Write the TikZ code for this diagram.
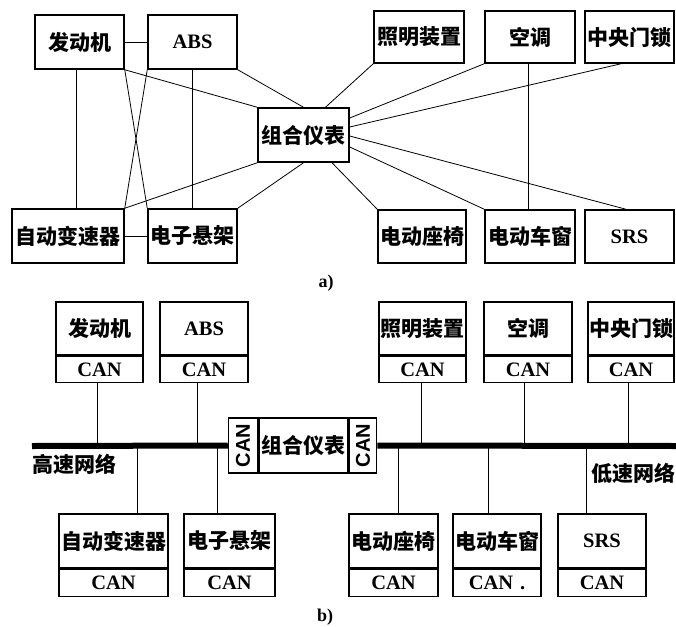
\documentclass[tikz,border=0pt]{standalone}
\usepackage{fontspec}
\setmainfont{Liberation Serif}
\newfontfamily\cjkfont{Noto Sans CJK SC}
\newfontfamily\sansfont{Liberation Sans}
\usetikzlibrary{calc}
\newcommand{\zh}{\cjkfont\bfseries\fontsize{21}{21}\selectfont}
\newcommand{\lat}{\rmfamily\bfseries\fontsize{20.5}{20.5}\selectfont}
\newcommand{\cansans}{\sansfont\bfseries\fontsize{20}{20}\selectfont}
\begin{document}
\begin{tikzpicture}[x=1pt,y=-1pt,
  boxa/.style={draw, line width=1.5pt, fill=white, inner sep=0pt, minimum height=54pt},
  canbox/.style={draw, line width=1.5pt, fill=white, inner sep=0pt, minimum height=26pt, font=\lat},
  conn/.style={line width=0.8pt},
  bus/.style={line width=6pt},
  captext/.style={font=\rmfamily\bfseries\fontsize{18}{18}\selectfont}]
\useasboundingbox (0,0) rectangle (676,626);

% ---------- a) ----------
\node[boxa, minimum width=89pt] (eng) at (79.5,42) {\zh 发动机};
\node[boxa, minimum width=89pt] (abs) at (192.5,42) {\lat ABS};
\node[boxa, minimum width=91pt] (cl) at (303.5,135) {\zh 组合仪表};
\node[boxa, minimum width=112pt] (at) at (68,236) {\zh 自动变速器};
\node[boxa, minimum width=89pt] (susp) at (192.5,236) {\zh 电子悬架};
\node[boxa, minimum width=90pt, minimum height=52pt] (light) at (419,37) {\zh 照明装置};
\node[boxa, minimum width=90pt, minimum height=52pt] (ac) at (530,37) {\zh 空调};
\node[boxa, minimum width=89pt, minimum height=52pt] (lock) at (629.5,37) {\zh 中央门锁};
\node[boxa, minimum width=88pt, minimum height=53pt] (seat) at (422,236.5) {\zh 电动座椅};
\node[boxa, minimum width=90pt, minimum height=53pt] (win) at (530,236.5) {\zh 电动车窗};
\node[boxa, minimum width=89pt, minimum height=53pt] (srs) at (629.5,236.5) {\lat SRS};

\draw[conn] (eng.east) -- (abs.west);
\draw[conn] (at.east) -- (susp.west);
\draw[conn] ([xshift=-3.5pt]eng.south) -- ([xshift=-3.5pt]eng.south |- at.north);
\draw[conn] (abs.south) -- (susp.north);
\draw[conn] (eng.south east) -- (susp.north west);
\draw[conn] (abs.south west) -- (at.north east);
\draw[conn] (eng.south east) -- (cl.north west);
\draw[conn] (abs.south east) -- (cl.north);
\draw[conn] (at.north east) -- (cl.south west);
\draw[conn] (susp.north east) -- (cl.south);
\draw[conn] ([xshift=22pt]cl.north) -- (light.south west);
\draw[conn] ([yshift=17pt]cl.east) -- (ac.south west);
\draw[conn] ([yshift=8pt]cl.east) -- ([xshift=-8.5pt]lock.south);
\draw[conn] ([xshift=-2pt]ac.south) -- ([xshift=-2pt]win.north);
\draw[conn] ([yshift=-1pt]cl.east) -- ([xshift=-3.5pt]srs.north);
\draw[conn] ([yshift=-12pt]cl.east) -- (win.north west);
\draw[conn] ([xshift=28.5pt]cl.south) -- (seat.north west);

\node[captext] (capa) at (326,283) {a)};

% ---------- b) ----------
\coordinate (busL) at (32,446);
\coordinate (busR) at (676,446);

\node[boxa, minimum width=89pt, minimum height=55pt] (cl2) at (303.5,445.5) {\zh 组合仪表};
\node[boxa, anchor=east, minimum width=29pt, minimum height=55pt] (cl2l) at (cl2.west) {\rotatebox{90}{\cansans CAN}};
\node[boxa, anchor=west, minimum width=27pt, minimum height=55pt] (cl2r) at (cl2.east) {\rotatebox{90}{\cansans CAN}};

\draw[bus] (busL) -- (cl2l.west);
\draw[bus] (cl2r.east) -- (busR);

% top boxes
\node[boxa, minimum width=87pt, minimum height=53pt] (eng2) at (99.5,328.5) {\zh 发动机};
\node[canbox, anchor=north, minimum width=87pt] (eng2c) at (eng2.south) {CAN};
\node[boxa, minimum width=88pt, minimum height=53pt] (abs2) at (204,328.5) {\lat ABS};
\node[canbox, anchor=north, minimum width=88pt] (abs2c) at (abs2.south) {CAN};
\node[boxa, minimum width=87pt, minimum height=53pt] (light2) at (422.5,328.5) {\zh 照明装置};
\node[canbox, anchor=north, minimum width=87pt] (light2c) at (light2.south) {CAN};
\node[boxa, minimum width=88pt, minimum height=53pt] (ac2) at (528,328.5) {\zh 空调};
\node[canbox, anchor=north, minimum width=88pt] (ac2c) at (ac2.south) {CAN};
\node[boxa, minimum width=86pt, minimum height=53pt] (lock2) at (631,328.5) {\zh 中央门锁};
\node[canbox, anchor=north, minimum width=86pt] (lock2c) at (lock2.south) {CAN};

% bottom boxes
\node[boxa, minimum width=109pt, minimum height=54pt] (at2) at (113.5,541) {\zh 自动变速器};
\node[canbox, anchor=north, minimum width=109pt, minimum height=27pt] (at2c) at (at2.south) {CAN};
\node[boxa, minimum width=91pt, minimum height=54pt] (susp2) at (229.5,541) {\zh 电子悬架};
\node[canbox, anchor=north, minimum width=91pt, minimum height=27pt] (susp2c) at (susp2.south) {CAN};
\node[boxa, minimum width=89pt, minimum height=54pt] (seat2) at (393.5,541) {\zh 电动座椅};
\node[canbox, anchor=north, minimum width=89pt, minimum height=27pt] (seat2c) at (seat2.south) {CAN};
\node[boxa, minimum width=88pt, minimum height=54pt] (win2) at (497,541) {\zh 电动车窗};
\node[canbox, anchor=north, minimum width=88pt, minimum height=27pt] (win2c) at (win2.south) {CAN\,\,.};
\node[boxa, minimum width=88pt, minimum height=54pt] (srs2) at (602,541) {\lat SRS};
\node[canbox, anchor=north, minimum width=88pt, minimum height=27pt] (srs2c) at (srs2.south) {CAN};

% drops to bus
\draw[conn] ([xshift=-2.5pt]eng2c.south) -- ([xshift=-2.5pt]eng2c.south |- busL);
\draw[conn] ([xshift=-7pt]abs2c.south) -- ([xshift=-7pt]abs2c.south |- busL);
\draw[conn] ([xshift=-1.5pt]light2c.south) -- ([xshift=-1.5pt]light2c.south |- busL);
\draw[conn] ([xshift=-4pt]ac2c.south) -- ([xshift=-4pt]ac2c.south |- busL);
\draw[conn] ([xshift=-3pt]lock2c.south) -- ([xshift=-3pt]lock2c.south |- busL);
\draw[conn] ([xshift=23.5pt]at2.north) -- ([xshift=23.5pt]at2.north |- busL);
\draw[conn] ([xshift=-12.5pt]susp2.north) -- ([xshift=-12.5pt]susp2.north |- busL);
\draw[conn] ([xshift=4.5pt]seat2.north) -- ([xshift=4.5pt]seat2.north |- busL);
\draw[conn] ([xshift=-9pt]win2.north) -- ([xshift=-9pt]win2.north |- busL);
\draw[conn] ([xshift=-16pt]srs2.north) -- ([xshift=-16pt]srs2.north |- busL);

\node[anchor=west, inner sep=0pt] (hs) at (32,464) {\zh 高速网络};
\node[anchor=west, inner sep=0pt] (ls) at (591,473) {\zh 低速网络};

\node[captext] (capb) at (325,617) {b)};
\end{tikzpicture}
\end{document}
